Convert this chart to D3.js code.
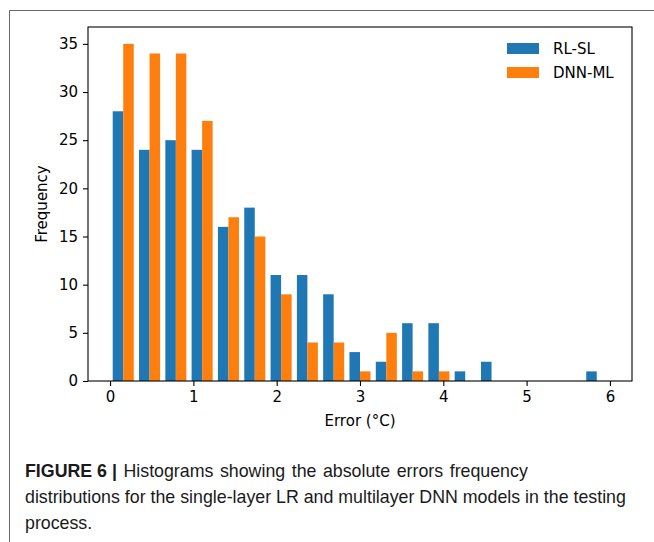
<!DOCTYPE html>
<html>
<head>
<meta charset="utf-8">
<script src="https://cdn.jsdelivr.net/npm/d3@7"></script>
<style>
  html, body { margin: 0; padding: 0; background: #fff; }
  svg { display: block; }
</style>
</head>
<body>
<svg id="chart" width="654" height="542"></svg>
<script>
// ---- data ----
const binEdges = [0, 0.316, 0.632, 0.947, 1.263, 1.579, 1.895, 2.211, 2.526, 2.842,
                  3.158, 3.474, 3.789, 4.105, 4.421, 4.737, 5.053, 5.368, 5.684, 6.0];
const seriesNames = ["RL-SL", "DNN-ML"];
const rlsl  = [28, 24, 25, 24, 16, 18, 11, 11, 9, 3, 2, 6, 6, 1, 2, 0, 0, 0, 1];
const dnnml = [35, 34, 34, 27, 17, 15, 9, 4, 4, 1, 5, 1, 1, 0, 0, 0, 0, 0, 0];
const xTicks = [0, 1, 2, 3, 4, 5, 6];
const yTicks = [0, 5, 10, 15, 20, 25, 30, 35];
const colors = ["#1f77b4", "#ff7f0e"];
const captionBold = "FIGURE 6 |";
const captionLines = [
  " Histograms showing the absolute errors frequency",
  "distributions for the single-layer LR and multilayer DNN models in the testing",
  "process."
];

// ---- layout ----
const svg = d3.select("#chart");
const L = 88, R = 632, T = 27, B = 381;
const x = d3.scaleLinear().domain([-0.265, 6.265]).range([L, R]);
const y = d3.scaleLinear().domain([0, 36.75]).range([B, T]);

// outer figure frame
svg.append("path")
  .attr("d", "M9.5,542 L9.5,10.5 L654,10.5")
  .attr("fill", "none").attr("stroke", "#666").attr("stroke-width", 1);

// bars
const series = [rlsl, dnnml];
series.forEach((vals, s) => {
  svg.append("g").selectAll("rect")
    .data(vals.map((v, i) => ({ v, i })))
    .enter().append("rect")
    .attr("x", d => {
      const bw = binEdges[d.i + 1] - binEdges[d.i];
      return x(binEdges[d.i] + bw * (0.1 + 0.4 * s));
    })
    .attr("width", d => {
      const bw = binEdges[d.i + 1] - binEdges[d.i];
      return x(binEdges[d.i] + bw * (0.5 + 0.4 * s)) - x(binEdges[d.i] + bw * (0.1 + 0.4 * s));
    })
    .attr("y", d => y(d.v))
    .attr("height", d => y(0) - y(d.v))
    .attr("fill", colors[s]);
});

const font = "'DejaVu Sans', sans-serif";

// axes
const xAxis = d3.axisBottom(x).tickValues(xTicks).tickFormat(d3.format("d"))
  .tickSizeInner(5).tickSizeOuter(0).tickPadding(5);
const yAxis = d3.axisLeft(y).tickValues(yTicks).tickFormat(d3.format("d"))
  .tickSizeInner(5).tickSizeOuter(0).tickPadding(5);

const gx = svg.append("g").attr("transform", `translate(0,${B})`).call(xAxis);
const gy = svg.append("g").attr("transform", `translate(${L},0)`).call(yAxis);
[gx, gy].forEach(g => {
  g.select(".domain").remove();
  g.selectAll(".tick line").attr("stroke", "#000").attr("stroke-width", 1.1);
  g.selectAll(".tick text").attr("fill", "#000").style("font-family", font).style("font-size", "15px");
});

// spines
svg.append("rect")
  .attr("x", L).attr("y", T).attr("width", R - L).attr("height", B - T)
  .attr("fill", "none").attr("stroke", "#000").attr("stroke-width", 1.1);

// axis labels
svg.append("text")
  .attr("x", (L + R) / 2).attr("y", 426)
  .attr("text-anchor", "middle")
  .style("font-family", font).style("font-size", "15px")
  .text("Error (°C)");
svg.append("text")
  .attr("transform", `translate(47,${(T + B) / 2}) rotate(-90)`)
  .attr("text-anchor", "middle")
  .style("font-family", font).style("font-size", "15px")
  .text("Frequency");

// legend
const lg = svg.append("g");
seriesNames.forEach((name, i) => {
  lg.append("rect")
    .attr("x", 507).attr("y", 43 + i * 24)
    .attr("width", 32).attr("height", 11)
    .attr("fill", colors[i]);
  lg.append("text")
    .attr("x", 553).attr("y", 54 + i * 24)
    .style("font-family", font).style("font-size", "15px")
    .text(name);
});

// caption
const cfont = "'Liberation Sans', Arial, sans-serif";
const cap = svg.append("text")
  .style("font-family", cfont).style("font-size", "17.8px").attr("fill", "#1a1a1a");
const l1 = cap.append("tspan").attr("x", 25).attr("y", 477);
l1.append("tspan").style("font-weight", "bold").text(captionBold);
l1.append("tspan").style("word-spacing", "1.6px").text(captionLines[0]);
cap.append("tspan").attr("x", 25).attr("y", 503).text(captionLines[1]);
cap.append("tspan").attr("x", 25).attr("y", 529).text(captionLines[2]);
</script>
</body>
</html>
